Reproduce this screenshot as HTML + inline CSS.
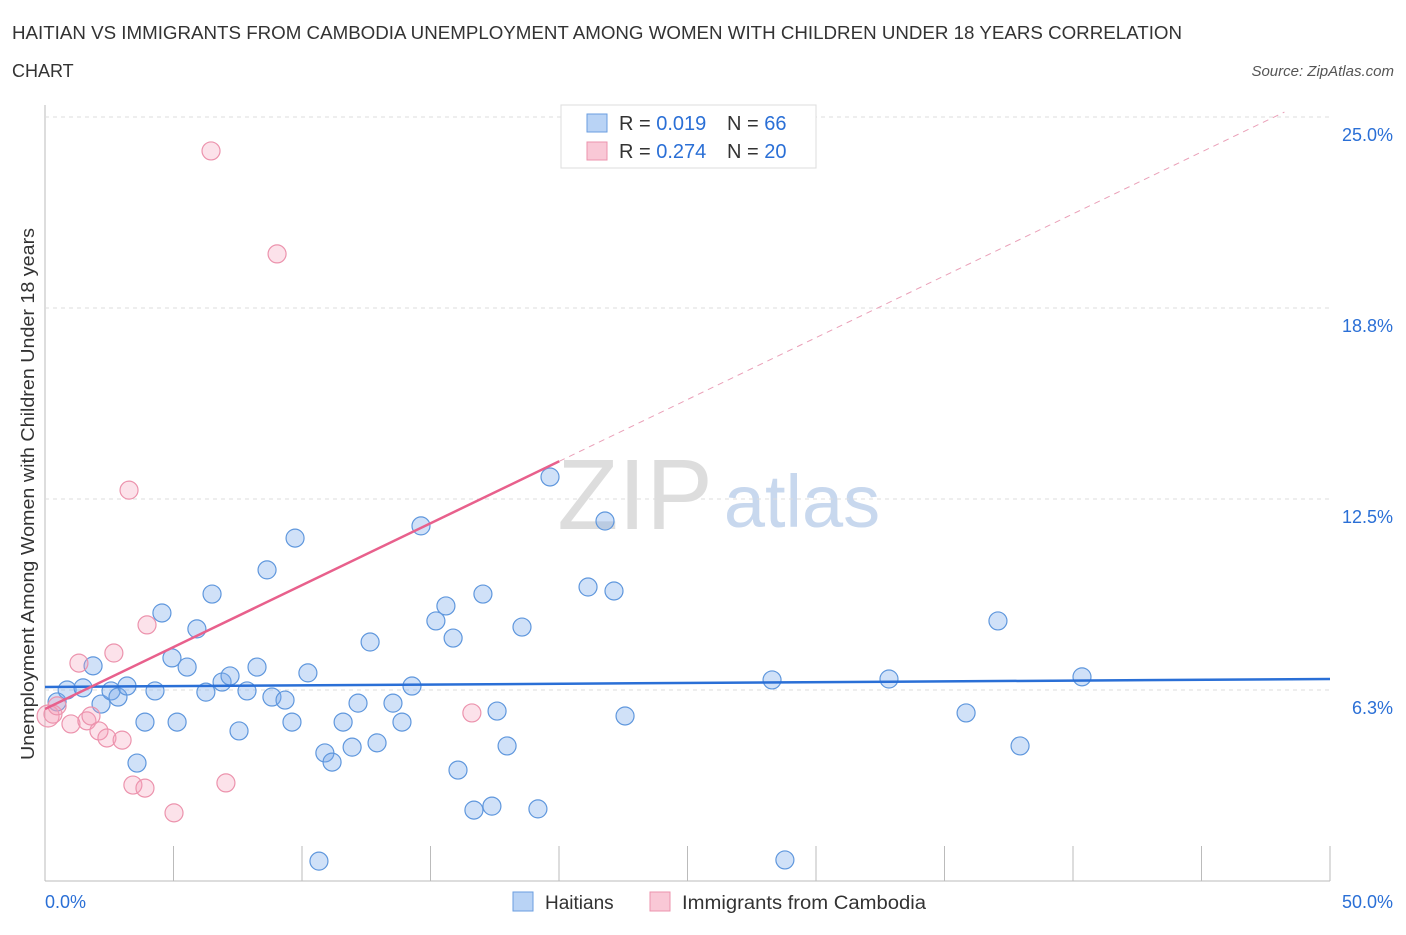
<!DOCTYPE html>
<html><head><meta charset="utf-8"><style>
body{margin:0;background:#fff;font-family:"Liberation Sans",Arial,sans-serif;}
svg text{font-family:"Liberation Sans",Arial,sans-serif;}
</style></head><body>
<svg id="c" width="1406" height="930" xmlns="http://www.w3.org/2000/svg">
<text x="12" y="39" font-size="18" fill="#333" textLength="1170" lengthAdjust="spacingAndGlyphs">HAITIAN VS IMMIGRANTS FROM CAMBODIA UNEMPLOYMENT AMONG WOMEN WITH CHILDREN UNDER 18 YEARS CORRELATION</text>
<text x="12" y="77" font-size="18" fill="#333">CHART</text>
<text x="1394" y="76" font-size="15" fill="#555" font-style="italic" text-anchor="end">Source: ZipAtlas.com</text>
<text x="34" y="494" font-size="18" fill="#333" text-anchor="middle" textLength="532" lengthAdjust="spacingAndGlyphs" transform="rotate(-90 34 494)">Unemployment Among Women with Children Under 18 years</text>
<g><text x="635" y="529" font-size="100" fill="#ddd" font-family="Liberation Serif,serif" text-anchor="middle">ZIP</text><text x="802" y="527" font-size="74" fill="#c8d8ee" text-anchor="middle">atlas</text></g>
<g id="grid"></g><g id="marks"></g>
<g>
<rect x="561" y="105" width="255" height="63" fill="#fff" stroke="#ddd"/>
<rect x="587" y="114" width="20" height="18" fill="#b9d3f5" stroke="#6a9ee0"/>
<text x="619" y="130" font-size="20" fill="#333">R = <tspan fill="#2a6fd6">0.019</tspan></text>
<text x="727" y="130" font-size="20" fill="#333">N = <tspan fill="#2a6fd6">66</tspan></text>
<rect x="587" y="142" width="20" height="18" fill="#f9c8d6" stroke="#ec93ad"/>
<text x="619" y="158" font-size="20" fill="#333">R = <tspan fill="#2a6fd6">0.274</tspan></text>
<text x="727" y="158" font-size="20" fill="#333">N = <tspan fill="#2a6fd6">20</tspan></text>
</g>
<g>
<rect x="513" y="892" width="20" height="19" fill="#b9d3f5" stroke="#6a9ee0"/>
<text x="545" y="909" font-size="19" fill="#333">Haitians</text>
<rect x="650" y="892" width="20" height="19" fill="#f9c8d6" stroke="#ec93ad"/>
<text x="682" y="909" font-size="19" fill="#333" textLength="244" lengthAdjust="spacingAndGlyphs">Immigrants from Cambodia</text>
</g>
</svg>
<script>
const yTicks=[6.25,12.5,18.75,25];
const yTickLabels=["6.3%","12.5%","18.8%","25.0%"];
const xTicks=[0,5,10,15,20,25,30,35,40,45,50];
const blueX=[0.47,0.86,1.48,2.18,1.87,2.57,2.84,3.19,3.58,3.89,4.28,4.55,4.94,5.14,5.53,5.91,6.26,6.50,6.89,7.20,7.55,7.86,8.25,8.64,8.83,9.34,9.61,9.73,10.23,10.66,10.89,11.17,11.60,11.95,12.18,12.65,12.92,13.54,13.89,14.28,14.63,15.21,15.60,15.88,16.07,16.69,17.04,17.39,17.59,17.98,18.56,19.18,19.65,21.13,21.79,22.14,22.57,28.29,28.79,32.84,35.84,37.08,37.94,40.35];
const blueY=[5.86,6.25,6.32,5.79,7.04,6.22,6.02,6.38,3.86,5.20,6.22,8.77,7.30,5.20,7.00,8.25,6.18,9.39,6.51,6.71,4.91,6.22,7.00,10.18,6.02,5.92,5.20,11.22,6.81,0.65,4.19,3.89,5.20,4.38,5.82,7.82,4.52,5.82,5.20,6.38,11.62,8.51,9.00,7.95,3.63,2.32,9.39,2.45,5.56,4.42,8.31,2.36,13.22,9.62,11.78,9.49,5.40,6.58,0.69,6.61,5.50,8.51,4.42,6.68];
const pinkX=[0.12,0.31,0.47,1.01,1.32,1.63,1.79,2.10,2.41,2.68,3.00,3.27,3.42,3.89,3.97,5.02,6.46,7.04,9.03,16.61];
const pinkY=[5.4,5.46,5.73,5.14,7.13,5.24,5.40,4.91,4.68,7.46,4.61,12.79,3.14,3.04,8.38,2.23,23.89,3.21,20.52,5.50];
const blueTrend=[6.35,6.61];
const pinkTrend=[5.63,0.405];
const X=v=>45+v*25.7, Y=v=>881-v*30.56;
const NS="http://www.w3.org/2000/svg";
function mk(p,t,a){const e=document.createElementNS(NS,t);for(const k in a)e.setAttribute(k,a[k]);p.appendChild(e);return e;}
const g=document.getElementById('grid'), m=document.getElementById('marks');
mk(g,'line',{x1:45,y1:105,x2:45,y2:881,stroke:'#bbb'});
mk(g,'line',{x1:45,y1:881,x2:1330,y2:881,stroke:'#bbb'});
yTicks.forEach((t,i)=>{const l=mk(g,'line',{x1:45,x2:1330,y1:Y(t),y2:Y(t),stroke:'#ddd','stroke-dasharray':'4,4'});


const tx=mk(g,'text',{x:1393,y:Y(t)+24,'font-size':18,fill:'#2a6fd6','text-anchor':'end'});tx.textContent=yTickLabels[i];

});
xTicks.forEach(t=>{const l=mk(g,'line',{x1:X(t),x2:X(t),y1:846,y2:881,stroke:'#bbb'});

});
const a=mk(g,'text',{x:45,y:908,'font-size':18,fill:'#2a6fd6'});a.textContent='0.0%';


const b=mk(g,'text',{x:1393,y:908,'font-size':18,fill:'#2a6fd6','text-anchor':'end'});b.textContent='50.0%';


blueX.forEach((x,i)=>{const c=mk(m,'circle',{cx:X(x),cy:Y(blueY[i]),r:9,fill:'rgba(120,170,235,0.35)',stroke:'#5f97dd','stroke-width':1.2});

});
pinkX.forEach((x,i)=>{const c=mk(m,'circle',{cx:X(x),cy:Y(pinkY[i]),r:i==0?11:9,fill:'rgba(245,160,185,0.3)',stroke:'#ec93ad','stroke-width':1.2});

});
const bl=mk(m,'line',{x1:X(0),y1:Y(blueTrend[0]),x2:X(50),y2:Y(blueTrend[1]),stroke:'#2a6fd6','stroke-width':2.5});


const pEnd=Math.max(...pinkX)+3.4, xTop=(25-pinkTrend[0])/pinkTrend[1]+0.4;
const pl=mk(m,'line',{x1:X(0),y1:Y(pinkTrend[0]),x2:X(pEnd),y2:Y(pinkTrend[0]+pinkTrend[1]*pEnd),stroke:'#e8608c','stroke-width':2.5});


const pd=mk(m,'line',{x1:X(pEnd),y1:Y(pinkTrend[0]+pinkTrend[1]*pEnd),x2:X(xTop),y2:Y(pinkTrend[0]+pinkTrend[1]*xTop),stroke:'#eaa0b8','stroke-width':1,'stroke-dasharray':'6,5'});


</script>
</body></html>
